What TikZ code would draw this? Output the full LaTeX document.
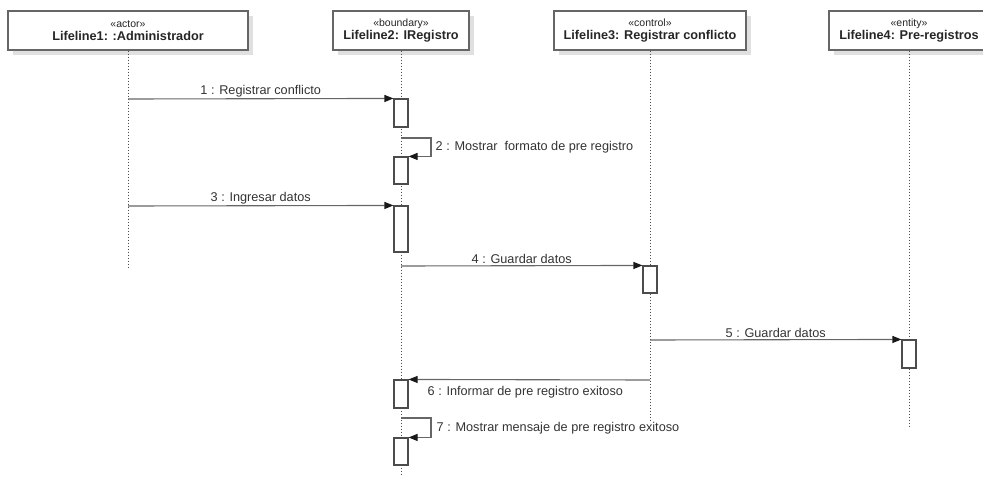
\documentclass[tikz,border=0pt]{standalone}
\usepackage{fontspec}
\setmainfont{Liberation Sans}
\usetikzlibrary{arrows.meta,shadows}

\begin{document}
\begin{tikzpicture}[x=1pt,y=-1pt,
    lifebox/.style={draw=black!60, line width=1.1pt, fill=white, minimum height=39pt,
        align=center, inner sep=0pt, text=black!85,
        drop shadow={shadow xshift=5pt, shadow yshift=-5pt, fill=black!12, opacity=1}},
    act/.style={draw=black!70, line width=1.1pt, fill=white, minimum width=14pt, inner sep=0pt},
    lifeline/.style={black!70, line width=0.8pt, dash pattern=on 0.8pt off 2.2pt},
    msg/.style={black!60, line width=1.1pt, -{Triangle[length=9pt,width=7pt,color=black!90]}},
    lbl/.style={text=black!80, font=\fontsize{12.7}{14}\selectfont, inner sep=1.5pt}]

    % Marco
    \useasboundingbox (0,0) rectangle (983,477);

    % Lineas de vida: numero/x/estereotipo/nombre/ancho/fin
    \foreach \n/\x/\st/\nm/\w/\e in {
        1/128/actor/Lifeline1: :Administrador/240/268,
        2/401/boundary/Lifeline2: IRegistro/136/475,
        3/650/control/Lifeline3: Registrar conflicto/192/421,
        4/909/entity/Lifeline4: Pre-registros/160/427}
    {
        \node[lifebox, minimum width=\w] (l\n) at (\x,30.5)
            {{\fontsize{10.5}{14}\selectfont «\st»}\\[1.5pt]
             {\fontsize{12.7}{14}\selectfont\bfseries \nm}};
        \coordinate (e\n) at (\x,\e);
        \draw[lifeline] (l\n.south) -- (e\n);
    }

    % Activaciones: numero/x/inicio/alto
    \foreach \n/\x/\t/\h in {
        1/401/99/28, 2/401/157/27, 3/401/206/46, 4/650/266/27,
        5/909/340/28, 6/401/380/28, 7/401/438/27}
    {
        \node[act, minimum height=\h] (a\n) at (\x,\t+\h/2) {};
    }

    % Origen de los mensajes
    \coordinate (m1) at (128,99);
    \coordinate (m2) at (401,138);
    \coordinate (m3) at (128,206);
    \coordinate (m4) at (401,266);
    \coordinate (m5) at (650,340);
    \coordinate (m6) at (650,380);
    \coordinate (m7) at (401,418);

    % Mensajes
    \draw[msg] (m1) -- node[lbl, above] {1 : Registrar conflicto} (a1.north west);
    \draw[msg] (m2) -- ++(30,0) |- (a2.north east);
    \node[lbl, anchor=west] (t2) at (434,147) {2 : Mostrar\ \ formato de pre registro};
    \draw[msg] (m3) -- node[lbl, above] {3 : Ingresar datos} (a3.north west);
    \draw[msg] (m4) -- node[lbl, above] {4 : Guardar datos} (a4.north west);
    \draw[msg] (m5) -- node[lbl, above] {5 : Guardar datos} (a5.north west);
    \draw[msg] (m6) -- (a6.north east);
    \node[lbl, anchor=west] (t6) at (426,392) {6 : Informar de pre registro exitoso};
    \draw[msg] (m7) -- ++(30,0) |- (a7.north east);
    \node[lbl, anchor=west] (t7) at (435,428) {7 : Mostrar mensaje de pre registro exitoso};
\end{tikzpicture}
\end{document}
